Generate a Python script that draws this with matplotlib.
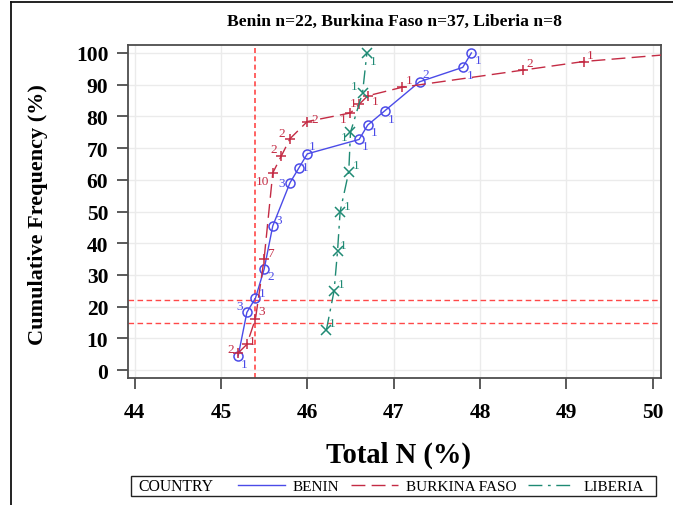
import numpy as np
import matplotlib
matplotlib.use("Agg")
import matplotlib.pyplot as plt
from matplotlib.lines import Line2D
from matplotlib.patches import Rectangle

# ---- data -------------------------------------------------------------
benin_n = [45.2, 45.3, 45.4, 45.5, 45.6, 45.8, 45.9, 46.0, 46.6, 46.7, 46.9, 47.3, 47.8, 47.9]
benin_counts = [1, 3, 1, 2, 3, 3, 1, 1, 1, 1, 1, 2, 1, 1]

burkina_n = [45.2, 45.3, 45.4, 45.5, 45.6, 45.7, 45.8, 46.0, 46.5, 46.6, 46.7, 47.1, 48.5, 49.2, 50.4]
burkina_counts = [2, 1, 3, 7, 10, 2, 2, 2, 1, 1, 1, 1, 2, 1, 1]

liberia_n = [46.22, 46.31, 46.35, 46.38, 46.48, 46.50, 46.64, 46.69]
liberia_counts = [1, 1, 1, 1, 1, 1, 1, 1]

ref_x = [45.4]
ref_y = [15.0, 22.2]

x_ticks = [44, 45, 46, 47, 48, 49, 50]
y_ticks = [0, 10, 20, 30, 40, 50, 60, 70, 80, 90, 100]

# label offsets (pixels, right/up) for the count annotations
benin_off = [(6, -8), (-7, 6), (7, 5), (7, -7), (6, 6), (-8, 0), (6, 1), (5, 8),
             (6, -7), (6, -7), (6, -8), (6, 8), (7, -8), (7, -7)]
burkina_off = [(-7, 4), (5, 3), (6, 8), (6, 6), (-10, -8), (-8, 7), (-8, 6), (7, 3),
               (-7, -6), (-6, 1), (7, -5), (7, 7), (7, 7), (7, 7), (7, 7)]
liberia_off = [(6, 7), (7, 7), (6, 6), (7, 6), (7, 7), (-6, -5), (-8, 7), (6, -8)]

C_BENIN = "#4b4be8"
C_BURKINA = "#c42b44"
C_LIBERIA = "#1f8a74"
C_REF = "#ff4848"

SERIF = ["Liberation Serif", "DejaVu Serif"]
plt.rcParams["font.family"] = SERIF

W, H = 673, 506
fig = plt.figure(figsize=(W / 100, H / 100), dpi=100)
ax = fig.add_axes([127.7 / W, 1 - 379 / H, (661 - 127.7) / W, (379 - 45.7) / H])

ax.set_xlim(43.92, 50.096)
ax.set_ylim(-2.5, 102.6)
ax.set_xticks(x_ticks)
ax.set_yticks(y_ticks)
ax.grid(True, color="#ebebeb", lw=1.0)
ax.set_axisbelow(True)
for s in ax.spines.values():
    s.set_color("#4d4d4d")
    s.set_linewidth(1.3)
ax.tick_params(axis="both", direction="out", length=8, width=1.3, color="#4d4d4d",
               labelsize=15.5)
ax.tick_params(axis="x", pad=9)
ax.tick_params(axis="y", pad=6)
for lab in ax.get_xticklabels() + ax.get_yticklabels():
    lab.set_fontweight("bold")

# reference lines
for v in ref_x:
    ax.axvline(v, color=C_REF, lw=1.2, dashes=(3, 2), zorder=1.5)
for v in ref_y:
    ax.axhline(v, color=C_REF, lw=1.0, dashes=(4, 2.5), zorder=1.5)


def cumfreq(counts):
    c = np.cumsum(counts)
    return c / c[-1] * 100.0


series = [
    (benin_n, benin_counts, benin_off, C_BENIN, None, "o", "BENIN"),
    (burkina_n, burkina_counts, burkina_off, C_BURKINA, (10, 4.5), "+", "BURKINA FASO"),
    (liberia_n, liberia_counts, liberia_off, C_LIBERIA, (10, 4, 2, 4), "x", "LIBERIA"),
]

handles = []
for xs, counts, offs, col, dash, mk, name in series:
    ys = cumfreq(counts)
    kw = dict(color=col, lw=1.0, marker=mk, markersize=7 if mk != "o" else 6.5,
              markerfacecolor="none", markeredgecolor=col, markeredgewidth=1.1,
              clip_on=True, zorder=3)
    if dash is not None:
        line, = ax.plot(xs, ys, ls="--", dashes=dash, **kw)
    else:
        line, = ax.plot(xs, ys, ls="-", **kw)
    for x, y, c, (dx, dy) in zip(xs, ys, counts, offs):
        if x > ax.get_xlim()[1]:
            continue
        ax.annotate(str(c), (x, y), xytext=(dx * 0.72, dy * 0.72), textcoords="offset points",
                    ha="center", va="center", color=col, fontsize=9.5, zorder=4)
    h = Line2D([], [], color=col, lw=1.0, ls="--" if dash else "-")
    if dash:
        h.set_dashes(dash)
    handles.append((h, name))

# titles and axis labels
fig.text(394.4 / W, 1 - 22 / H, "Benin n=22, Burkina Faso n=37, Liberia n=8",
         ha="center", va="center", fontsize=12.6, fontweight="bold")
fig.text(398 / W, 1 - 455 / H, "Total N (%)", ha="center", va="center",
         fontsize=20.6, fontweight="bold")
fig.text(38 / W, 1 - 215 / H, "Cumulative Frequency (%)", ha="center", va="center",
         rotation=90, fontsize=16, fontweight="bold")

# legend
fig.add_artist(Rectangle((131 / W, 1 - 497 / H), (656 - 131) / W, 20 / H,
                         transform=fig.transFigure, fill=False, ec="#222222", lw=1.0))
fig.text(138 / W, 1 - 487.5 / H, "COUNTRY", ha="left", va="center", fontsize=11.3)
fig.legend([h for h, _ in handles], [n for _, n in handles], ncol=3, frameon=False,
           loc="center left", bbox_to_anchor=(238 / W, 1 - 487.5 / H),
           fontsize=11, handlelength=3.1, handletextpad=0.5, columnspacing=0.75,
           borderpad=0, borderaxespad=0)

# outer frame
fig.add_artist(Line2D([10.5 / W, 1.0], [1 - 3 / H, 1 - 3 / H], transform=fig.transFigure,
                      color="#111111", lw=1.3))
fig.add_artist(Line2D([10.5 / W, 10.5 / W], [0, 1 - 3 / H], transform=fig.transFigure,
                      color="#111111", lw=1.3))

fig.savefig("out.png", dpi=100)
